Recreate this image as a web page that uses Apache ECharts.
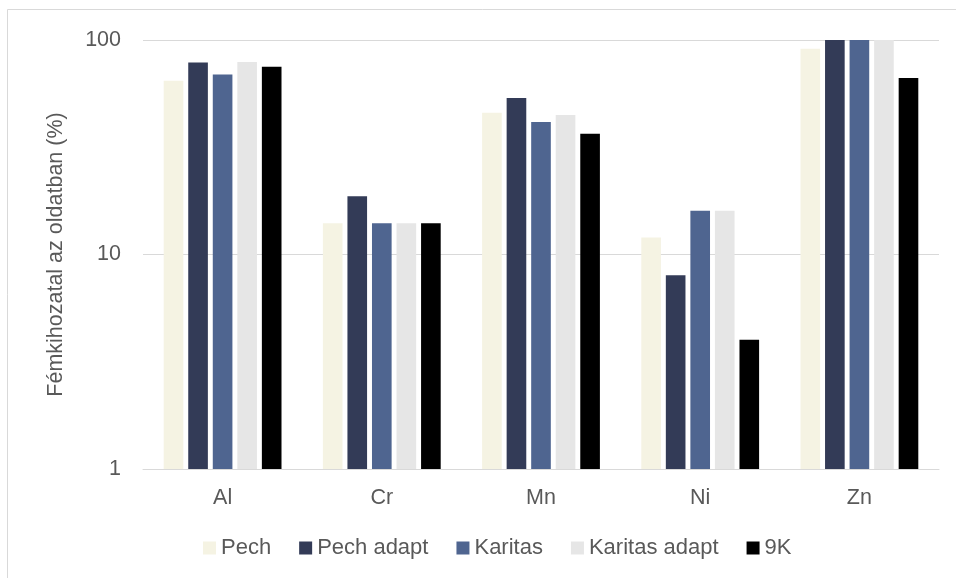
<!DOCTYPE html>
<html>
<head>
<meta charset="utf-8">
<script src="https://cdn.jsdelivr.net/npm/echarts@6/dist/echarts.min.js"></script>
<style>
  html, body { margin: 0; padding: 0; background: #ffffff; }
  #chart { width: 956px; height: 578px; }
</style>
</head>
<body>
<div id="chart"></div>
<script>
// Metals and leaching methods
const categories = ['Al', 'Cr', 'Mn', 'Ni', 'Zn'];
const seriesNames = ['Pech', 'Pech adapt', 'Karitas', 'Karitas adapt', '9K'];

// Metal recovery in solution (%), per method
const pech         = [64.5, 14, 45.8, 12, 91];
const pechAdapt    = [78.5, 18.7, 53.6, 8, 100];
const karitas      = [69, 14, 41.5, 16, 100];
const karitasAdapt = [79, 14, 44.7, 16, 100];
const nineK        = [75, 14, 36.6, 4, 66.5];

const seriesValues = [pech, pechAdapt, karitas, karitasAdapt, nineK];
const seriesColors = ['#f5f3e3', '#333b57', '#4f6590', '#e6e6e6', '#000000'];

const textColor = '#595959';
const fontFamily = 'Liberation Sans, Arial, sans-serif';

const chart = echarts.init(document.getElementById('chart'), null, { renderer: 'canvas' });

chart.setOption({
  backgroundColor: '#ffffff',
  animation: false,
  textStyle: { fontFamily: fontFamily, color: textColor },
  graphic: [{
    type: 'rect',
    shape: { x: 7.5, y: 9.5, width: 980, height: 620 },
    style: { fill: 'none', stroke: '#d9d9d9', lineWidth: 1 },
    silent: true,
    z: -1
  }],
  grid: { left: 143, right: 17, top: 40, bottom: 109 },
  legend: {
    data: seriesNames,
    bottom: 14,
    left: 198,
    icon: 'rect',
    itemWidth: 13,
    itemHeight: 13,
    itemGap: 28,
    textStyle: { fontSize: 22, color: textColor, fontFamily: fontFamily }
  },
  xAxis: {
    type: 'category',
    data: categories,
    axisLine: { show: true, lineStyle: { color: '#d9d9d9', width: 1 } },
    axisTick: { show: false },
    axisLabel: { fontSize: 21.5, color: textColor, margin: 18 },
    splitLine: { show: false }
  },
  yAxis: {
    type: 'log',
    logBase: 10,
    min: 1,
    max: 100,
    name: 'Fémkihozatal az oldatban (%)',
    nameLocation: 'middle',
    nameGap: 76,
    nameRotate: 90,
    nameTextStyle: { fontSize: 21.5, color: textColor },
    axisLine: { show: false },
    axisTick: { show: false },
    axisLabel: { fontSize: 21.5, color: textColor, margin: 22 },
    splitLine: { show: true, lineStyle: { color: '#d9d9d9', width: 1 } }
  },
  series: seriesNames.map((name, i) => ({
    name: name,
    type: 'bar',
    data: seriesValues[i],
    barGap: '25%',
    barCategoryGap: '26%',
    itemStyle: { color: seriesColors[i] }
  }))
});
</script>
</body>
</html>
